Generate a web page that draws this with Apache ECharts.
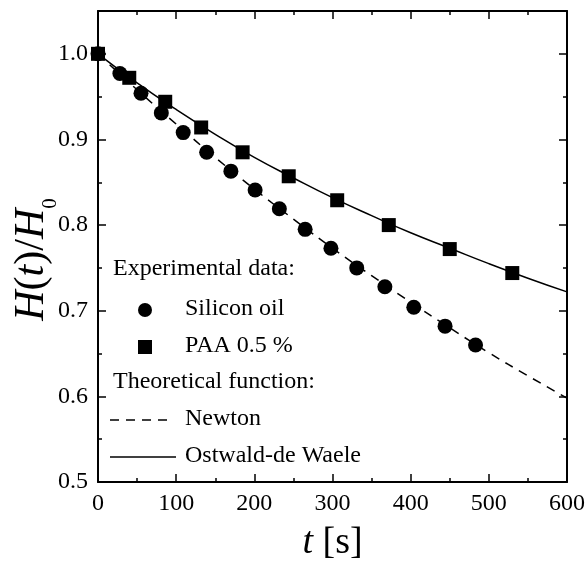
<!DOCTYPE html>
<html>
<head>
<meta charset="utf-8">
<script src="https://cdn.jsdelivr.net/npm/echarts@6/dist/echarts.min.js"></script>
<style>
  html, body { margin: 0; padding: 0; background: #fff; }
  #chart { width: 585px; height: 565px; }
</style>
</head>
<body>
<div id="chart"></div>
<script>
// measured points, silicon oil (circles)
const oilT = [0, 28, 55, 81, 109, 139, 170, 201, 232, 265, 298, 331, 367, 404, 444, 483];
const oilH = [1.0, 0.977, 0.954, 0.931, 0.908, 0.885, 0.863, 0.841, 0.819, 0.795, 0.773, 0.750, 0.728, 0.704, 0.682, 0.660];
// measured points, PAA 0.5 % (squares)
const paaT = [0, 40, 86, 132, 185, 244, 306, 372, 450, 530];
const paaH = [1.0, 0.972, 0.944, 0.914, 0.885, 0.857, 0.829, 0.800, 0.772, 0.744];
// theoretical curves
const curveT = [0, 50, 100, 150, 200, 250, 300, 350, 400, 450, 500, 550, 600];
const newtonH = [1.0, 0.958, 0.918, 0.879, 0.842, 0.807, 0.773, 0.741, 0.710, 0.680, 0.651, 0.624, 0.598];
const ostwaldH = [1.0, 0.966, 0.935, 0.906, 0.879, 0.855, 0.832, 0.811, 0.791, 0.773, 0.755, 0.738, 0.722];
// axes: [min, max, major step, minor step]
const xTicks = [0, 600, 100, 50];
const yTicks = [0.5, 1.05, 0.1, 0.05];

const FONT = 'Liberation Serif';
const pairs = (xs, ys) => xs.map((x, i) => [x, ys[i]]);

const chart = echarts.init(document.getElementById('chart'), null, { renderer: 'canvas' });

// one frame side: line + inward ticks, no labels
function side(type, pos, t, step, len, line) {
  return {
    type: 'value', position: pos, min: t[0], max: t[1], interval: step,
    axisLine: { show: line, onZero: false, lineStyle: { color: '#000', width: 2 } },
    axisTick: { show: true, inside: true, length: len, lineStyle: { color: '#000', width: 1.5 } },
    axisLabel: { show: false },
    splitLine: { show: false }
  };
}

// legend drawn with graphic elements (two group headings + items)
const legX = 113, rowY = [270, 310, 347, 383, 420, 457];
const textStyle = (txt, x, y) => ({
  type: 'text', left: x, top: y - 13,
  style: { text: txt, font: '24px "' + FONT + '"', fill: '#000' }
});

const xMain = side('x', 'bottom', xTicks, xTicks[2], 8, true);
xMain.axisLabel = { show: true, color: '#000', fontFamily: FONT, fontSize: 24, margin: 10 };
xMain.name = '{i|t} [s]';
xMain.nameLocation = 'middle';
xMain.nameGap = 42;
xMain.nameMoveOverlap = false;
xMain.nameTextStyle = {
  color: '#000', fontFamily: FONT, fontSize: 38,
  rich: { i: { fontFamily: FONT, fontSize: 38, fontStyle: 'italic', color: '#000' } }
};

const yMain = side('y', 'left', yTicks, yTicks[2], 8, true);
yMain.axisLabel = {
  show: true, color: '#000', fontFamily: FONT, fontSize: 24, margin: 10,
  showMaxLabel: false, formatter: v => v.toFixed(1)
};
yMain.name = '{i|H}({i|t})/{i|H}{s|0}';
yMain.nameLocation = 'middle';
yMain.nameGap = 37;
yMain.nameRotate = 90;
yMain.nameMoveOverlap = false;
yMain.nameTextStyle = {
  color: '#000', fontFamily: FONT, fontSize: 42,
  padding: [0, 26, 0, 0],
  rich: {
    i: { fontFamily: FONT, fontSize: 42, fontStyle: 'italic', color: '#000' },
    s: { fontFamily: FONT, fontSize: 21, color: '#000', verticalAlign: 'bottom', padding: [38, 0, 0, 0] }
  }
};

const option = {
  animation: false,
  backgroundColor: '#fff',
  grid: { left: 98, top: 11, right: 18, bottom: 83, containLabel: false, outerBoundsMode: 'none' },
  xAxis: [
    xMain,
    side('x', 'top', xTicks, xTicks[2], 8, true),
    side('x', 'bottom', xTicks, xTicks[3], 4, false),
    side('x', 'top', xTicks, xTicks[3], 4, false)
  ],
  yAxis: [
    yMain,
    side('y', 'right', yTicks, yTicks[2], 8, true),
    side('y', 'left', yTicks, yTicks[3], 4, false),
    side('y', 'right', yTicks, yTicks[3], 4, false)
  ],
  series: [
    {
      name: 'Newton', type: 'line', data: pairs(curveT, newtonH),
      smooth: true, showSymbol: false, symbol: 'none',
      lineStyle: { color: '#000', width: 1.5, type: [9, 7] }, z: 2
    },
    {
      name: 'Ostwald-de Waele', type: 'line', data: pairs(curveT, ostwaldH),
      smooth: true, showSymbol: false, symbol: 'none',
      lineStyle: { color: '#000', width: 1.5 }, z: 2
    },
    {
      name: 'Silicon oil', type: 'scatter', data: pairs(oilT, oilH),
      symbol: 'circle', symbolSize: 15, clip: false,
      itemStyle: { color: '#000', opacity: 1 }, z: 3
    },
    {
      name: 'PAA 0.5 %', type: 'scatter', data: pairs(paaT, paaH),
      symbol: 'rect', symbolSize: 14, clip: false,
      itemStyle: { color: '#000', opacity: 1 }, z: 4
    }
  ],
  graphic: [
    textStyle('Experimental data:', legX, rowY[0]),
    { type: 'circle', shape: { cx: 145, cy: rowY[1], r: 7 }, style: { fill: '#000' } },
    textStyle('Silicon oil', 185, rowY[1]),
    { type: 'rect', shape: { x: 138, y: rowY[2] - 7, width: 14, height: 14 }, style: { fill: '#000' } },
    textStyle('PAA 0.5 %', 185, rowY[2]),
    textStyle('Theoretical function:', legX, rowY[3]),
    { type: 'line', shape: { x1: 110, y1: rowY[4], x2: 174, y2: rowY[4] },
      style: { stroke: '#000', lineWidth: 1.5, lineDash: [9, 7] } },
    textStyle('Newton', 185, rowY[4]),
    { type: 'line', shape: { x1: 110, y1: rowY[5], x2: 176, y2: rowY[5] },
      style: { stroke: '#000', lineWidth: 1.5 } },
    textStyle('Ostwald-de Waele', 185, rowY[5])
  ]
};

chart.setOption(option);
</script>
</body>
</html>
